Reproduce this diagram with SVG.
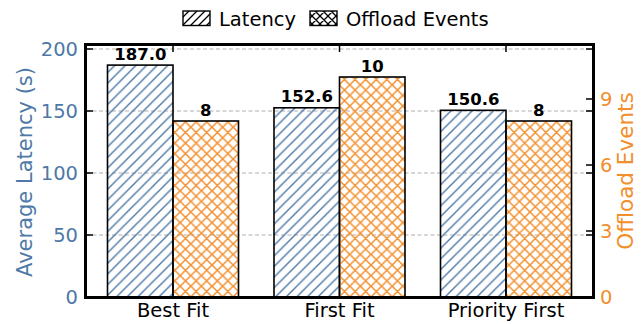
<svg xmlns="http://www.w3.org/2000/svg" width="644" height="324" viewBox="0 0 644 324">
  <defs>
    <pattern id="hatch-blue" patternUnits="userSpaceOnUse" width="10.6" height="10.6">
      <path d="M-2.65,2.65 L2.65,-2.65 M0,10.6 L10.6,0 M7.95,13.25 L13.25,7.95" stroke="#4e79a7" stroke-width="1.4"/>
    </pattern>
    <pattern id="cross-orange" patternUnits="userSpaceOnUse" width="10.6" height="10.6">
      <path d="M-2.65,2.65 L2.65,-2.65 M0,10.6 L10.6,0 M7.95,13.25 L13.25,7.95 M-2.65,7.95 L2.65,13.25 M0,0 L10.6,10.6 M7.95,-2.65 L13.25,2.65" stroke="#f28e2b" stroke-width="1.5"/>
    </pattern>
    <pattern id="hatch-black" patternUnits="userSpaceOnUse" width="8" height="8">
      <path d="M-2,2 L2,-2 M0,8 L8,0 M6,10 L10,6" stroke="#000" stroke-width="1.3"/>
    </pattern>
    <pattern id="cross-black" patternUnits="userSpaceOnUse" width="8" height="8">
      <path d="M-2,2 L2,-2 M0,8 L8,0 M6,10 L10,6 M-2,6 L2,10 M0,0 L8,8 M6,-2 L10,2" stroke="#000" stroke-width="1.3"/>
    </pattern>
  </defs>
  <style>
    text { font-family: "DejaVu Sans", "Liberation Sans", sans-serif; }
    .grid { stroke: #b0b0b0; stroke-width: 1; stroke-dasharray: 4 2.5; fill: none; }
    .tick { stroke: #000; stroke-width: 1.5; fill: none; }
    .spine { stroke: #000; stroke-width: 3; fill: none; }
    .bar { stroke: #000; stroke-width: 1.6; }
    .lat { fill: url(#hatch-blue); }
    .off { fill: url(#cross-orange); }
    .ltick { font-size: 19.5px; fill: #4e79a7; text-anchor: end; }
    .rtick { font-size: 19.5px; fill: #f28e2b; text-anchor: start; }
    .xtick { font-size: 19.5px; fill: #000; text-anchor: middle; }
    .val { font-size: 16.5px; font-weight: bold; fill: #000; text-anchor: middle; }
    .leg { font-size: 19.5px; fill: #000; }
  </style>
  <rect width="644" height="324" fill="#fff"/>

  <!-- gridlines of the latency axis -->
  <g id="grid">
    <line class="grid" x1="86" y1="49" x2="593" y2="49"/>
    <line class="grid" x1="86" y1="111" x2="593" y2="111"/>
    <line class="grid" x1="86" y1="173" x2="593" y2="173"/>
    <line class="grid" x1="86" y1="235" x2="593" y2="235"/>
  </g>

  <!-- bars -->
  <g id="bars-best-fit">
    <rect class="bar lat" x="107.5" y="65.1" width="65.5" height="231.9"/>
    <rect class="bar off" x="173" y="121" width="65.5" height="176"/>
    <text class="val" x="140.3" y="59.5">187.0</text>
    <text class="val" x="205.8" y="116">8</text>
  </g>
  <g id="bars-first-fit">
    <rect class="bar lat" x="274" y="107.8" width="65.5" height="189.2"/>
    <rect class="bar off" x="339.5" y="77" width="65.5" height="220"/>
    <text class="val" x="306.8" y="102.3">152.6</text>
    <text class="val" x="372.3" y="71.7">10</text>
  </g>
  <g id="bars-priority-first">
    <rect class="bar lat" x="440.5" y="110.3" width="65.5" height="186.7"/>
    <rect class="bar off" x="506" y="121" width="65.5" height="176"/>
    <text class="val" x="473.3" y="104.8">150.6</text>
    <text class="val" x="538.8" y="116">8</text>
  </g>

  <!-- ticks, pointing inward -->
  <g id="ticks">
    <path class="tick" d="M86,297 h7 M86,235 h7 M86,173 h7 M86,111 h7 M86,49 h7"/>
    <path class="tick" d="M593,235 h-7 M593,173 h-7 M593,111 h-7 M593,49 h-7"/>
    <path class="tick" d="M593,297 h-7 M593,231 h-7 M593,165 h-7 M593,99 h-7"/>
    <path class="tick" d="M173,45 v7 M339.5,45 v7 M506,45 v7"/>
  </g>

  <!-- frame -->
  <rect class="spine" x="85.5" y="44.5" width="508" height="253"/>

  <!-- tick labels -->
  <g id="left-axis">
    <text class="ltick" x="78" y="304">0</text>
    <text class="ltick" x="78" y="242">50</text>
    <text class="ltick" x="78" y="180">100</text>
    <text class="ltick" x="78" y="118">150</text>
    <text class="ltick" x="78" y="56">200</text>
    <text x="32" y="172" transform="rotate(-90 32 172)" font-size="21" fill="#4e79a7" text-anchor="middle">Average Latency (s)</text>
  </g>
  <g id="right-axis">
    <text class="rtick" x="600" y="304">0</text>
    <text class="rtick" x="600" y="238">3</text>
    <text class="rtick" x="600" y="172">6</text>
    <text class="rtick" x="600" y="106">9</text>
    <text x="633" y="171" transform="rotate(-90 633 171)" font-size="21.5" fill="#f28e2b" text-anchor="middle">Offload Events</text>
  </g>
  <g id="x-axis">
    <text class="xtick" x="173" y="317">Best Fit</text>
    <text class="xtick" x="339.5" y="317">First Fit</text>
    <text class="xtick" x="506" y="317">Priority First</text>
  </g>

  <!-- legend -->
  <g id="legend">
    <rect x="183" y="11" width="27" height="14.5" fill="url(#hatch-black)" stroke="#000" stroke-width="1.4"/>
    <text class="leg" x="219" y="26">Latency</text>
    <rect x="310" y="11" width="27" height="14.5" fill="url(#cross-black)" stroke="#000" stroke-width="1.4"/>
    <text class="leg" x="346" y="26">Offload Events</text>
  </g>
</svg>
